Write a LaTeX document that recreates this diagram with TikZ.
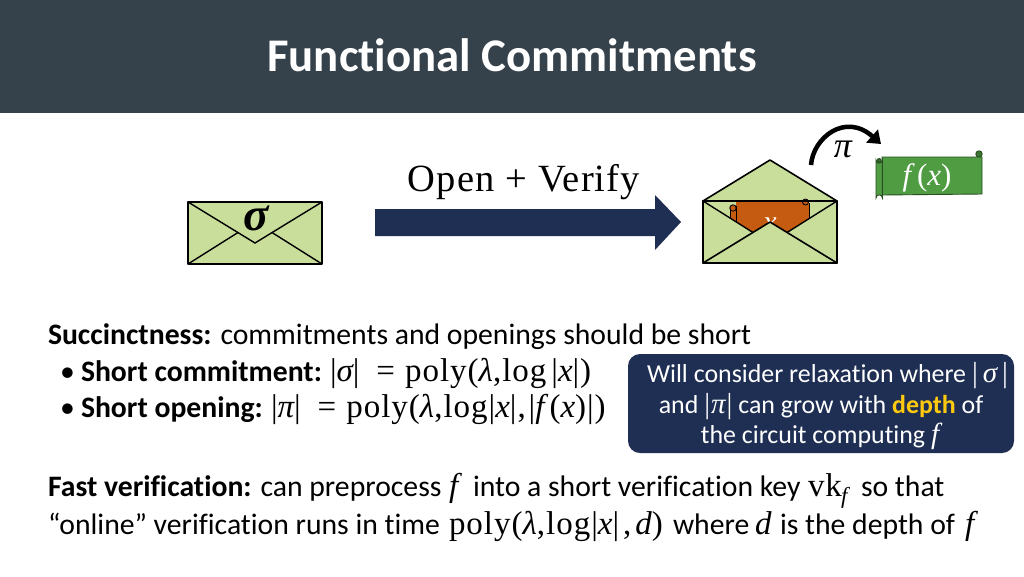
\documentclass[tikz,border=0pt]{standalone}
\usepackage{fontspec}
\usetikzlibrary{arrows.meta}
\setmainfont{Carlito}[RawFeature={-liga}]
\newfontfamily\mfont{Liberation Serif}[LetterSpace=3]
\newcommand{\mi}[1]{{\mfont\itshape #1}}
\newcommand{\mr}[1]{{\mfont #1}}
\newcommand{\cm}[1]{{\fontsize{29}{30}\selectfont #1}}
\definecolor{headbg}{HTML}{36424B}
\definecolor{navy}{HTML}{1F2F54}
\definecolor{envgreen}{HTML}{C9DE9B}
\definecolor{scrollorange}{HTML}{C55A11}
\definecolor{scrollgreen}{HTML}{4F9C43}
\definecolor{hl}{HTML}{FFC90E}
\tikzset{
  body/.style={anchor=base west,inner sep=0pt,outer sep=0pt,font=\fontsize{29.7}{34}\selectfont,text=black},
  mathbody/.style={anchor=base west,inner sep=0pt,outer sep=0pt,font=\fontsize{33}{35}\selectfont,text=black},
  callout/.style={anchor=base,inner sep=0pt,text=white,font=\fontsize{25.9}{30}\selectfont},
  env/.style={draw=black,line width=1.6pt,fill=envgreen,line join=round},
}
\begin{document}
\begin{tikzpicture}[x=1pt,y=-1pt]
\useasboundingbox (0,0) rectangle (1024,576);
\fill[white] (0,0) rectangle (1024,576);
\fill[headbg] (0,0) rectangle (1024,113);
\node[anchor=base,inner sep=0pt,text=white,font=\fontsize{46.8}{52}\bfseries\selectfont] (title) at (512,71) {Functional Commitments};
% sealed envelope
\fill[envgreen] (188,202) rectangle (322,264);
\draw[env,fill=none] (188,202) rectangle (322,264);
\draw[black,line width=1.4pt] (188,202) -- (255,243) -- (322,202);
\draw[black,line width=1.4pt] (188,264) -- (238,232.5);
\draw[black,line width=1.4pt] (322,264) -- (272,232.5);
\node[inner sep=0pt,font=\fontsize{47}{49}\bfseries\selectfont] (sigma) at (256,218) {\mi{σ}};
% big arrow
\fill[navy] (375,209) -- (655,209) -- (655,195) -- (681,222) -- (655,250) -- (655,236) -- (375,236) -- cycle;
\node[anchor=base,inner sep=0pt,font=\fontsize{38.5}{44}\selectfont] (open) at (524,191) {\mr{Open + Verify}};
% open envelope
\draw[env] (703,201) -- (770,160) -- (837,201) -- cycle;
\fill[envgreen] (703,201) rectangle (837,263);
\fill[scrollorange] (730,207) rectangle (736,240);
\fill[scrollorange] (736,202) rectangle (809,240);
\draw[black,line width=0.9pt] (809,203) -- (809,240) (736,206) -- (736,240) (730,207) -- (730,240);
\draw[black,line width=0.9pt,fill=scrollorange] (733,208) circle (3.2);
\draw[black,line width=0.9pt,fill=scrollorange] (805.5,202) circle (3);
\node[inner sep=0pt,text=white,font=\fontsize{30}{32}\selectfont] (hidden) at (770,225) {\mi{x}};
\fill[envgreen] (703,201) -- (770,243) -- (837,201) -- (837,263) -- (703,263) -- cycle;
\draw[black,line width=1.4pt] (703,201) -- (753,232.5);
\draw[black,line width=1.4pt] (837,201) -- (787,232.5);
\draw[env] (703,263) -- (770,222) -- (837,263) -- cycle;
\draw[env,fill=none] (703,201) rectangle (837,263);
% curved arrow
\coordinate (arcstart) at (811,165);
\coordinate (arcend) at (881,144);
\draw[line width=4.5pt,black,-{Triangle[length=12pt,width=17pt]}] (arcstart) .. controls (813,138) and (845,112) .. (arcend);
\node[inner sep=0pt,font=\fontsize{36}{38}\selectfont] (pi) at (843,149) {\mi{π}};
% green scroll
\draw[black!50!scrollgreen,line width=0.9pt,fill=scrollgreen!75!black] (979,154) circle (3.2);
\draw[black!50!scrollgreen,line width=0.9pt,fill=scrollgreen] (882,157) -- (982,157) -- (982,194) -- (882,195) -- cycle;
\draw[black!50!scrollgreen,line width=0.9pt,fill=scrollgreen] (876,160) -- (876,198) arc[start angle=180,end angle=360,radius=3.2] -- (882.4,160) arc[start angle=0,end angle=180,radius=3.2] -- cycle;
\draw[black!50!scrollgreen,line width=0.9pt,fill=scrollgreen!70!black] (879.2,160.5) circle (2);
\node[inner sep=0pt,text=white,font=\fontsize{31}{33}\selectfont] (fx) at (927,178) {\mi{f}\hspace{6pt}\mr{(}\mi{x}\mr{)}};
% body text
\node[body] (succ) at (48,344) {\textbf{Succinctness:} commitments and openings should be short};
\node[body] (bu1) at (60,381) {•};
\node[body] (b1) at (81,381) {\textbf{Short commitment:}};
\node[mathbody] (b1m) at (330,381) {\mr{|}\mi{σ}\mr{|\hspace{17pt}=\hspace{10pt}poly(}\mi{λ}\mr{,\hspace{1pt}log\hspace{5pt}|}\mi{x}\mr{|)}};
\node[body] (bu2) at (60,417) {•};
\node[body] (b2) at (81,417) {\textbf{Short opening:}};
\node[mathbody] (b2m) at (271,417) {\mr{|}\mi{π}\mr{|\hspace{17pt}=\hspace{10pt}poly(}\mi{λ}\mr{,\hspace{1pt}log|}\mi{x}\mr{|,\hspace{3pt}|}\mi{f}\mr{\hspace{5pt}(}\mi{x}\mr{)|)}};
\node[body] (fast) at (48,496) {\textbf{Fast verification:} can preprocess};
\node[mathbody] (fastf) at (449,496) {\mi{f}};
\node[body] (fast2) at (473,496) {into a short verification key};
\node[mathbody] (vk) at (808,496) {\mr{vk}};
\node[anchor=base west,inner sep=0pt,font=\fontsize{23}{25}\selectfont] (vkf) at (841,503) {\mi{f}};
\node[body] (fast3) at (861,496) {so that};
\node[body] (online) at (48,534) {“online” verification runs in time};
\node[mathbody] (onm) at (449,534) {\mr{poly(}\mi{λ}\mr{,\hspace{1pt}log|}\mi{x}\mr{|\hspace{4pt},\hspace{4pt}}\mi{d}\mr{)}};
\node[body] (on2) at (673,534) {where};
\node[mathbody] (ond) at (755,534) {\mi{d}};
\node[body] (on3) at (780,534) {is the depth of};
\node[mathbody] (onf) at (965,534) {\mi{f}};
% callout
\fill[navy,rounded corners=12pt] (628,354) rectangle (1014,453);
\node[callout] (c1) at (827.5,382) {Will consider relaxation where \cm{\mr{|}\hspace{5pt}\mi{σ}\hspace{5pt}\mr{|}}};
\node[callout] (c2) at (821,413) {and \cm{\mr{|}\hspace{1pt}\mi{π}\hspace{1pt}\mr{|}} can grow with \textbf{\textcolor{hl}{depth}} of};
\node[callout] (c3) at (820,443) {the circuit computing \cm{\mi{f}}};
\end{tikzpicture}
\end{document}
